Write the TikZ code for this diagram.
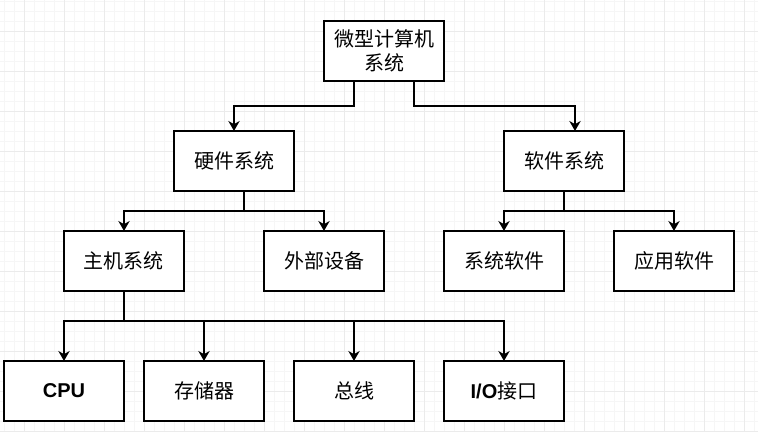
\documentclass[tikz,border=0pt]{standalone}
\usepackage{fontspec}
\setmainfont{Liberation Sans}
\newfontfamily\cjk{Noto Sans CJK SC}
\usetikzlibrary{arrows.meta}
\tikzset{
  box/.style={draw=black, line width=1.5pt, fill=white, minimum width=90pt, minimum height=45pt,
    inner sep=0pt, outer sep=0pt, align=center, font=\cjk\fontsize{15}{18}\selectfont},
  conn/.style={draw=black, line width=1.2pt, -{Stealth[length=7.5pt,width=8.5pt,inset=2.4pt]}},
  minorgrid/.style={draw=black!3.5, line width=0.5pt},
  majorgrid/.style={draw=black!8, line width=0.75pt}
}
\begin{document}
\begin{tikzpicture}[x=0.75pt,y=-0.75pt]
\useasboundingbox (0,0) rectangle (758,432);
\fill[white] (0,0) rectangle (758,432);
\draw[minorgrid] foreach \x in {4,14,...,754} {(\x,0) -- (\x,432)};
\draw[minorgrid] foreach \y in {1,11,...,431} {(0,\y) -- (758,\y)};
\draw[majorgrid] foreach \x in {24,64,...,744} {(\x,0) -- (\x,432)};
\draw[majorgrid] foreach \y in {31,71,...,431} {(0,\y) -- (758,\y)};

\node[box] (top) at (384,51) {微型计算机\\系统};
\node[box] (hw) at (234,161) {硬件系统};
\node[box] (sw) at (564,161) {软件系统};
\node[box] (host) at (124,261) {主机系统};
\node[box] (ext) at (324,261) {外部设备};
\node[box] (sys) at (504,261) {系统软件};
\node[box] (app) at (674,261) {应用软件};
\node[box] (cpu) at (64,391) {\fontspec{Liberation Sans}\bfseries CPU};
\node[box] (mem) at (204,391) {存储器};
\node[box] (bus) at (354,391) {总线};
\node[box] (io) at (504,391) {{\fontspec{Liberation Sans}\bfseries I/O}接口};

\draw[conn] ([xshift=-22.5pt]top.south) -- ++(0,25) -| (hw.north);
\draw[conn] ([xshift=22.5pt]top.south) -- ++(0,25) -| ([xshift=8.25pt]sw.north);
\draw[conn] ([xshift=7.5pt]hw.south) -- ++(0,20) -| (host.north);
\draw[conn] ([xshift=7.5pt]hw.south) -- ++(0,20) -| (ext.north);
\draw[conn] (sw.south) -- ++(0,20) -| (sys.north);
\draw[conn] (sw.south) -- ++(0,20) -| (app.north);
\draw[conn] (host.south) -- ++(0,30) -| (cpu.north);
\draw[conn] (host.south) -- ++(0,30) -| (mem.north);
\draw[conn] (host.south) -- ++(0,30) -| (bus.north);
\draw[conn] (host.south) -- ++(0,30) -| (io.north);
\end{tikzpicture}
\end{document}
